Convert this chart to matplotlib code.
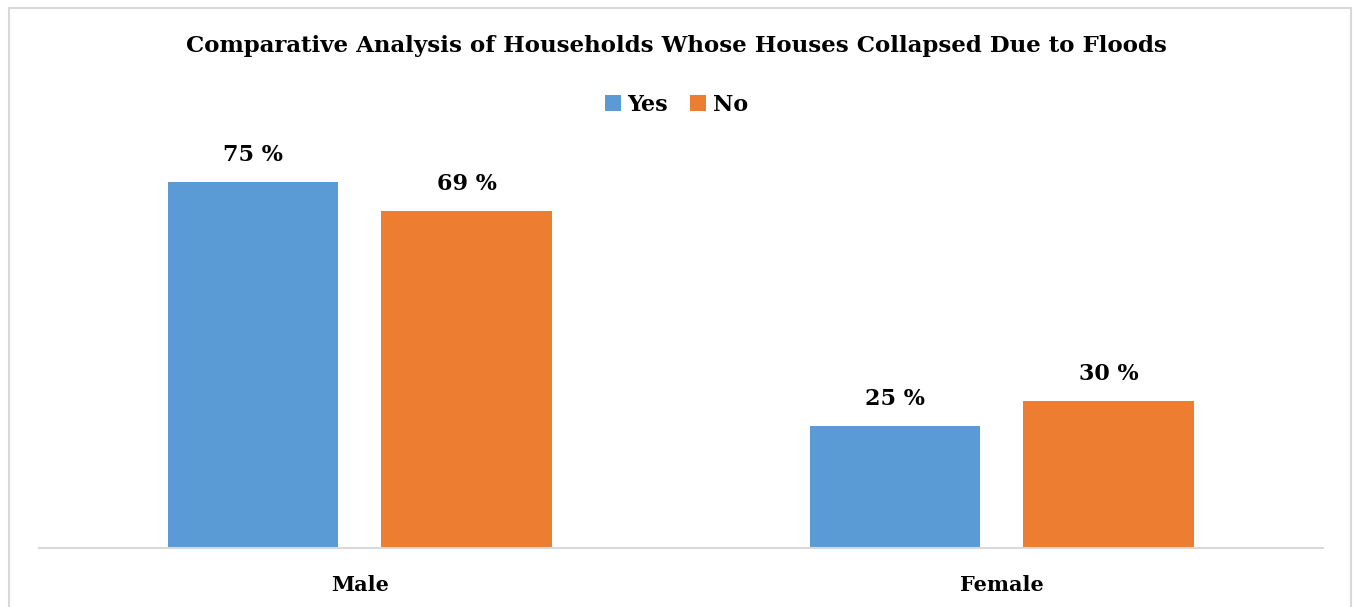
import numpy as np
import matplotlib.pyplot as plt
from matplotlib.patches import Rectangle

categories = ["Male", "Female"]
yes_values = [75, 25]
no_values = [69, 30]
yes_labels = ["75 %", "25 %"]
no_labels = ["69 %", "30 %"]
title = "Comparative Analysis of Households Whose Houses Collapsed Due to Floods"

blue = "#5B9BD5"
orange = "#ED7D31"
grey = "#D9D9D9"

plt.rcParams["font.family"] = ["DejaVu Serif"]
plt.rcParams["font.weight"] = "bold"

fig = plt.figure(figsize=(13.53, 6.07), dpi=100)
ax = fig.add_axes([0.0288, 0.098, 0.949, 0.642])

x = np.arange(len(categories))
width = 0.266
off = 0.1665
b1 = ax.bar(x - off, yes_values, width, color=blue, label="Yes")
b2 = ax.bar(x + off, no_values, width, color=orange, label="No")

for bars, labels in [(b1, yes_labels), (b2, no_labels)]:
    for bar, lab in zip(bars, labels):
        ax.text(bar.get_x() + bar.get_width() / 2, bar.get_height() + 3.3, lab,
                ha="center", va="bottom", fontsize=16, fontweight="bold")

ax.set_xlim(-0.5, 1.5)
ax.set_ylim(0, 80)
ax.set_xticks(x)
ax.set_xticklabels(categories, fontsize=15, fontweight="bold")
ax.tick_params(axis="x", length=0, pad=20)
ax.set_yticks([])
for s in ["top", "right", "left"]:
    ax.spines[s].set_visible(False)
ax.spines["bottom"].set_color(grey)
ax.spines["bottom"].set_linewidth(1.5)

fig.text(0.5, 0.924, title, ha="center", va="center", fontsize=16.5, fontweight="bold")
fig.legend(loc="center", bbox_to_anchor=(0.5, 0.827), ncol=2, frameon=False,
           prop={"size": 16, "weight": "bold"}, handlelength=0.7, handleheight=0.7,
           handletextpad=0.3, columnspacing=1.0)

# light outer border like the original chart frame
fig.patches.append(Rectangle((0.0067, -0.01), 0.9918, 0.997, transform=fig.transFigure,
                             fill=False, edgecolor=grey, linewidth=1.5))

fig.savefig("out.png", dpi=100)
